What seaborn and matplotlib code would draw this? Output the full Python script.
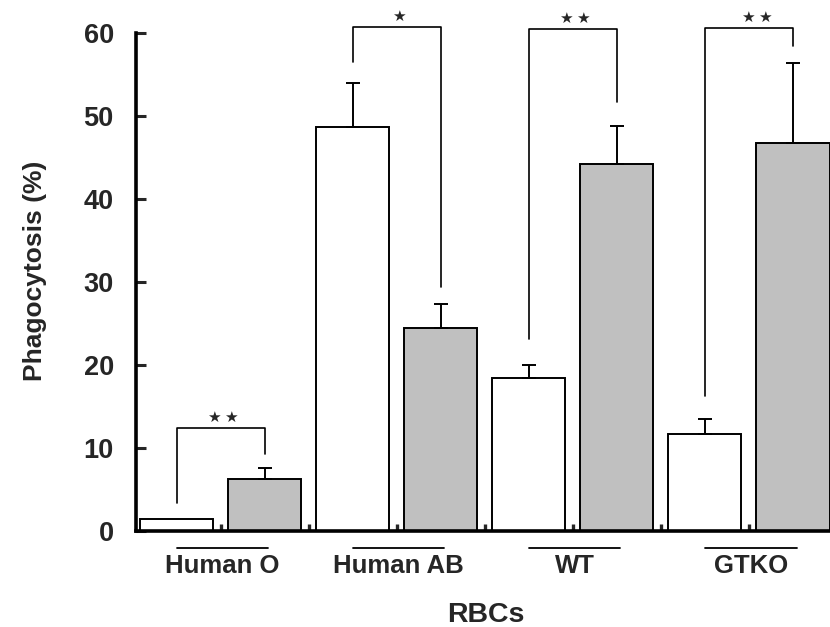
import matplotlib
matplotlib.use("Agg")
import matplotlib.pyplot as plt
import numpy as np
import pandas as pd
import seaborn as sns

# Phagocytosis (%) per RBC type, untreated (white) vs treated (gray)
groups = ["Human O", "Human AB", "WT", "GTKO"]
white_means = [1.4, 48.7, 18.4, 11.7]
white_errs = [0.0, 5.3, 1.6, 1.8]
gray_means = [6.3, 24.5, 44.2, 46.7]
gray_errs = [1.3, 2.8, 4.6, 9.7]

# significance brackets: left foot, top, right foot, number of stars
bracket_left = [3.4, 56.5, 23.1, 16.3]
bracket_top = [12.4, 60.7, 60.5, 60.6]
bracket_right = [9.3, 29.4, 51.7, 58.4]
bracket_stars = [2, 1, 2, 2]


def main():
    rows = []
    for g, wm, we, gm, ge in zip(groups, white_means, white_errs, gray_means, gray_errs):
        rows.append({"bar": g + " white", "group": g, "cond": "white", "value": wm, "err": we})
        rows.append({"bar": g + " gray", "group": g, "cond": "gray", "value": gm, "err": ge})
    df = pd.DataFrame(rows)

    sns.set_style("white")
    plt.rcParams["font.family"] = ["Liberation Sans", "DejaVu Sans"]

    fig = plt.figure(figsize=(8.3, 6.27), dpi=100)
    ax = fig.add_axes([136 / 830, 96 / 627, 694 / 830, 498 / 627])

    sns.barplot(data=df, x="bar", y="value", hue="cond", dodge=False,
                palette={"white": "white", "gray": "#c0c0c0"}, legend=False,
                width=0.83, saturation=1, edgecolor="black", linewidth=1.4, ax=ax)

    # upper-only error bars
    pos = np.arange(len(df))
    mask = df["err"].to_numpy() > 0
    ax.errorbar(pos[mask], df["value"][mask], yerr=[np.zeros(mask.sum()), df["err"][mask]],
                fmt="none", ecolor="black", elinewidth=1.4, capsize=5, capthick=1.4, zorder=1)

    # brackets with stars
    for i, (l, t, r, n) in enumerate(zip(bracket_left, bracket_top, bracket_right, bracket_stars)):
        x0, x1 = 2 * i, 2 * i + 1
        ax.plot([x0, x0, x1, x1], [l, t, t, r], color="black", lw=1.2, clip_on=False)
        xc = (x0 + x1) / 2 + (0.08 if i == 3 else 0.02)
        offsets = [0] if n == 1 else [-6, 6]
        for dx in offsets:
            ax.annotate("★", (xc, t), xytext=(dx, 7.8), textcoords="offset points",
                        ha="center", va="center", fontsize=11, family="DejaVu Sans",
                        annotation_clip=False)

    # group underlines and labels
    for i, g in enumerate(groups):
        ax.plot([2 * i, 2 * i + 1.04], [-2.05, -2.05], color="black", lw=1.3, clip_on=False)
        ax.text(2 * i + 0.52, -5.06, g, ha="center", va="baseline", fontsize=18.5,
                fontweight="bold", clip_on=False)

    ax.set_xlim(-0.46, 7.42)
    ax.set_ylim(0, 60)
    ax.set_xticks(np.arange(0.5, 7, 1))
    ax.set_xticklabels([])
    ax.set_yticks(range(0, 61, 10))
    ax.tick_params(axis="x", direction="in", length=5, width=2.4, bottom=True)
    ax.tick_params(axis="y", direction="in", length=7, width=2.2, labelsize=19.5, pad=16, left=True)
    for lab in ax.get_yticklabels():
        lab.set_fontweight("bold")

    sns.despine(ax=ax)
    ax.spines["left"].set_linewidth(2.6)
    ax.spines["bottom"].set_linewidth(2.6)
    ax.spines["left"].set_color("black")
    ax.spines["bottom"].set_color("black")

    ax.set_xlabel("RBCs", fontsize=20.5, fontweight="bold", va="baseline")
    ax.xaxis.set_label_coords(0.504, -0.1827)
    ax.set_ylabel("Phagocytosis (%)", fontsize=19, fontweight="bold")
    ax.yaxis.set_label_coords(-0.128, 0.522)

    fig.savefig("out.png", dpi=100)


if __name__ == "__main__":
    main()
